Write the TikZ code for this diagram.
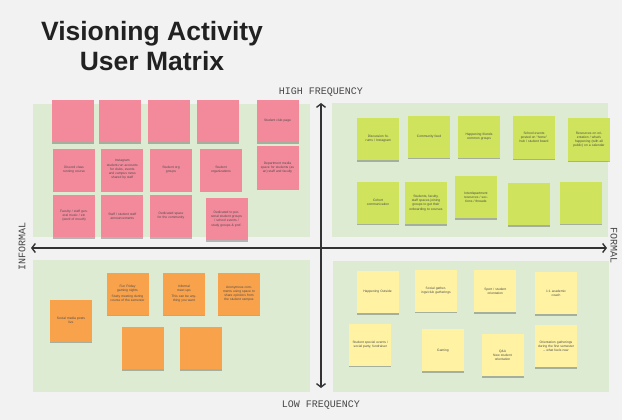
\documentclass[tikz,border=0pt]{standalone}
\usepackage{fontspec}
\setmainfont{Liberation Sans}
\newfontfamily\axisfont{Liberation Mono}
\usetikzlibrary{arrows.meta,shadows}

\definecolor{pagegray}{HTML}{F2F2F2}
\definecolor{panelgreen}{HTML}{DCEBD2}
\definecolor{notepink}{HTML}{F28A9B}
\definecolor{notelime}{HTML}{CFE35C}
\definecolor{noteorange}{HTML}{F9A24C}
\definecolor{noteyellow}{HTML}{FFF3A3}
\definecolor{axisgray}{HTML}{333333}

\tikzset{
	sticky/.style={minimum width=42pt, minimum height=42pt, inner sep=1pt, text width=37pt, align=center,
		font=\fontsize{3.3}{4.1}\selectfont, text=black!70,
		drop shadow={shadow xshift=0pt, shadow yshift=-1.6pt, fill=black, opacity=0.25}},
	pinknote/.style={sticky, fill=notepink},
	limenote/.style={sticky, fill=notelime},
	orangenote/.style={sticky, fill=noteorange},
	yellownote/.style={sticky, fill=noteyellow},
	axis/.style={draw=axisgray, line width=1.4pt,
		{Straight Barb[length=3.5pt,width=9pt]}-{Straight Barb[length=3.5pt,width=9pt]}},
	axislabel/.style={font=\axisfont\fontsize{10}{12}\selectfont, text=black!72, inner sep=1pt},
	titletext/.style={font=\fontsize{26.5}{30}\selectfont\bfseries, text=black!87, anchor=base, inner sep=0pt}
}

\begin{document}
\begin{tikzpicture}[x=1pt, y=-1pt]
		%%%%% START %%%%%
		
		\useasboundingbox[fill=pagegray] (0, 0) rectangle (622, 420);
		
		\node[titletext] (title1) at (152, 41) {Visioning Activity};
		\node[titletext] (title2) at (152, 71) {User Matrix};
		
		% quadrant panels
		\fill[panelgreen] (33, 104) rectangle (310, 237);
		\fill[panelgreen] (332, 103) rectangle (608, 237);
		\fill[panelgreen] (33, 260) rectangle (310, 392);
		\fill[panelgreen] (333, 261) rectangle (609, 392);
		
		% axes
		\coordinate (informal) at (31, 248);
		\coordinate (formal) at (607, 248);
		\coordinate (highfreq) at (321, 103);
		\coordinate (lowfreq) at (321, 388);
		\draw[axis] (informal) -- (formal);
		\draw[axis] (highfreq) -- (lowfreq);
		
		\node[axislabel] (hightxt) at (321, 92) {HIGH FREQUENCY};
		\node[axislabel] (lowtxt) at (321, 405) {LOW FREQUENCY};
		\node[axislabel, rotate=90] (informaltxt) at (22, 246) {INFORMAL};
		\node[axislabel, rotate=-90] (formaltxt) at (614, 246) {FORMAL};
		
		% informal, high frequency
		\node[pinknote] (pk11) at (72.5, 121) {};
		\node[pinknote] (pk12) at (120.3, 121) {};
		\node[pinknote] (pk13) at (169, 121) {};
		\node[pinknote] (pk14) at (217.5, 121) {};
		\node[pinknote] (pk15) at (277.5, 121) {Student club page};
		\node[pinknote] (pk21) at (74, 169.5) {Discord class\\ running course};
		\node[pinknote] (pk22) at (122.3, 169.5) {Instagram\\[1pt] student-run accounts for clubs, events and campus news shared by staff};
		\node[pinknote] (pk23) at (171, 169.5) {Student org\\ groups};
		\node[pinknote] (pk24) at (221, 169.5) {Student\\ organizations};
		\node[pinknote] (pk25) at (277.5, 167.5) {Department media space for students (as an) staff and faculty};
		\node[pinknote] (pk31) at (74, 216) {Faculty / staff general music / etc (word of mouth)};
		\node[pinknote] (pk32) at (122.3, 216) {Staff / student staff announcements};
		\node[pinknote] (pk33) at (171, 216) {Dedicated space for the community};
		\node[pinknote] (pk34) at (226.5, 219) {Dedicated to personal student groups / school events / study groups \& prof.};
		
		% formal, high frequency
		\node[limenote] (lm11) at (378.3, 139) {Discussion forums / Instagram};
		\node[limenote] (lm12) at (429, 136.7) {Community feed};
		\node[limenote] (lm13) at (479, 136.7) {Happening friends common groups};
		\node[limenote] (lm14) at (534, 137.5) {School events posted on ``home'' hub / student board};
		\node[limenote] (lm15) at (589, 139.5) {Resources on orientation / what's happening (with all public) on a calendar};
		\node[limenote] (lm21) at (378, 202.5) {Cohort\\ communication};
		\node[limenote] (lm22) at (426, 203) {Students, faculty, staff spaces joining groups to get their onboarding to courses};
		\node[limenote] (lm23) at (476, 197) {Interdepartment resources / sections / threads};
		\node[limenote] (lm24) at (529, 204) {};
		\node[limenote] (lm25) at (581, 202.5) {};
		
		% informal, low frequency
		\node[orangenote] (or11) at (127.5, 293.5) {Fun Friday gaming nights\\[2pt] Study meeting during course of the semester};
		\node[orangenote] (or12) at (184, 293.5) {Informal\\ meet ups\\[2pt] This can be anything you want};
		\node[orangenote] (or13) at (239, 293.5) {Anonymous comments using space to share opinions from the student campus};
		\node[orangenote] (or10) at (71, 320.5) {Social media posts\\ live};
		\node[orangenote] (or21) at (143.3, 348.3) {};
		\node[orangenote] (or22) at (201, 348.3) {};
		
		% formal, low frequency
		\node[yellownote] (yl11) at (377.5, 292) {Happening Outside};
		\node[yellownote] (yl12) at (436, 290.5) {Social gatherings/club gatherings};
		\node[yellownote] (yl13) at (495.3, 291) {Sport / student\\ orientation};
		\node[yellownote] (yl14) at (556, 293) {1:1 academic\\ coach};
		\node[yellownote] (yl21) at (370.3, 344.5) {Student special events / social party, fundraiser};
		\node[yellownote] (yl22) at (443, 350.3) {Gaming};
		\node[yellownote] (yl23) at (502.5, 355.3) {Q\&A\\ New student\\ orientation};
		\node[yellownote] (yl24) at (556, 346) {Orientation gatherings during the first semester -- what feels new};
		
		%%%%% END %%%%%
	\end{tikzpicture}
\end{document}
